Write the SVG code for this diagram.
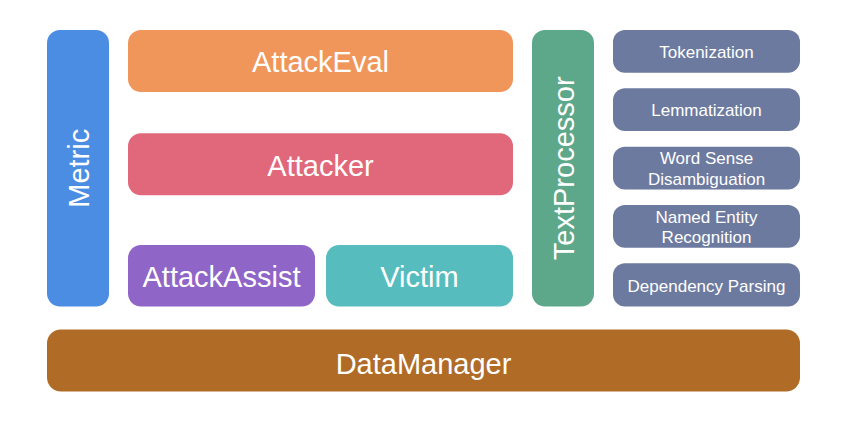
<svg xmlns="http://www.w3.org/2000/svg" width="856" height="422" viewBox="0 0 856 422">
<style>
text{font-family:"Liberation Sans",Arial,Helvetica,sans-serif;fill:#ffffff;text-anchor:middle}
.big{font-size:29px}
.sm{font-size:17px}
.sub{fill:#6d7a9f}
</style>
<rect width="856" height="422" fill="#ffffff"/>
<g id="Metric"><rect x="47" y="30" width="62" height="276.5" rx="13" fill="#4c8de4"/><text class="big" transform="translate(89,168.3) rotate(-90)">Metric</text></g>
<g id="AttackEval"><rect x="128" y="30" width="385" height="62" rx="13" fill="#f0965a"/><text class="big" x="320.5" y="72">AttackEval</text></g>
<g id="Attacker"><rect x="128" y="133.3" width="385" height="62" rx="13" fill="#e1687a"/><text class="big" x="320.5" y="175.5">Attacker</text></g>
<g id="AttackAssist"><rect x="128" y="245" width="187" height="61.5" rx="13" fill="#8f66c8"/><text class="big" x="221.5" y="286.5">AttackAssist</text></g>
<g id="Victim"><rect x="326" y="245" width="187" height="61.5" rx="13" fill="#56bcbe"/><text class="big" x="419.5" y="286.5">Victim</text></g>
<g id="TextProcessor"><rect x="532" y="30" width="62" height="276.5" rx="13" fill="#5da78a"/><text class="big" transform="translate(573.5,168.3) rotate(-90)">TextProcessor</text></g>
<g id="Tokenization"><rect class="sub" x="613" y="30" width="187" height="42.7" rx="12"/><text class="sm" x="706.5" y="58">Tokenization</text></g>
<g id="Lemmatization"><rect class="sub" x="613" y="88.3" width="187" height="42.7" rx="12"/><text class="sm" x="706.5" y="116.3">Lemmatization</text></g>
<g id="WordSenseDisambiguation"><rect class="sub" x="613" y="146.7" width="187" height="42.7" rx="12"/><text class="sm" x="706.5" y="164.2">Word Sense</text><text class="sm" x="706.5" y="184.8">Disambiguation</text></g>
<g id="NamedEntityRecognition"><rect class="sub" x="613" y="205" width="187" height="42.7" rx="12"/><text class="sm" x="706.5" y="222.7">Named Entity</text><text class="sm" x="706.5" y="243.3">Recognition</text></g>
<g id="DependencyParsing"><rect class="sub" x="613" y="263.3" width="187" height="43.2" rx="12"/><text class="sm" x="706.5" y="291.5">Dependency Parsing</text></g>
<g id="DataManager"><rect x="47" y="329.5" width="753" height="62" rx="14" fill="#b06b27"/><text class="big" x="423.5" y="374">DataManager</text></g>
<g id="connectors"></g>
</svg>
